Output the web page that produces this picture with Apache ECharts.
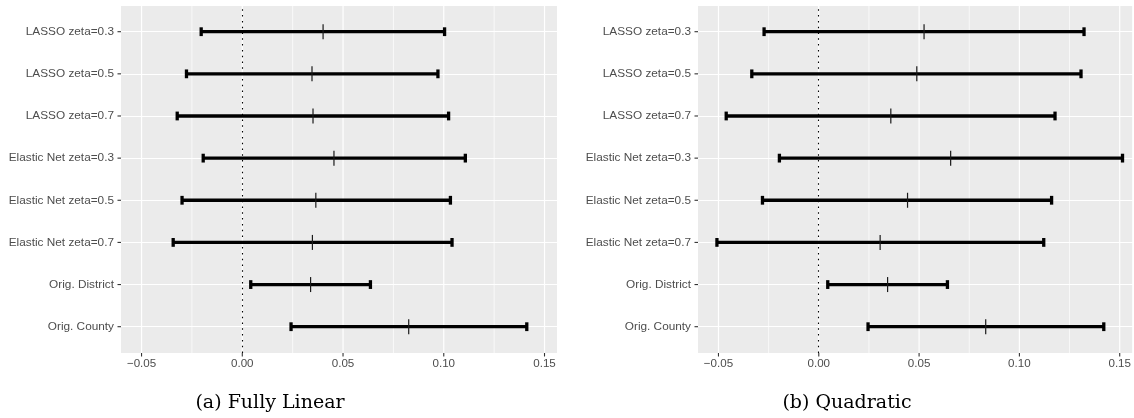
<!DOCTYPE html>
<html>
<head>
<meta charset="utf-8">
<script src="https://cdn.jsdelivr.net/npm/echarts@6/dist/echarts.min.js"></script>
<style>
  html, body { margin: 0; padding: 0; background: #ffffff; }
  #chart { width: 1134px; height: 418px; }
</style>
</head>
<body>
<div id="chart"></div>
<script>
// Estimator rows, listed top to bottom
const categories = [
  "LASSO zeta=0.3", "LASSO zeta=0.5", "LASSO zeta=0.7",
  "Elastic Net zeta=0.3", "Elastic Net zeta=0.5", "Elastic Net zeta=0.7",
  "Orig. District", "Orig. County"
];

// (a) Fully linear specification: interval bounds and point estimate
const linearLow  = [-0.0204, -0.0277, -0.0323, -0.0194, -0.0299, -0.0343, 0.0042, 0.0242];
const linearEst  = [ 0.0401,  0.0346,  0.0351,  0.0455,  0.0365,  0.0348, 0.0339, 0.0826];
const linearHigh = [ 0.1004,  0.0971,  0.1024,  0.1107,  0.1033,  0.1041, 0.0636, 0.1412];

// (b) Quadratic specification
const quadLow  = [-0.0274, -0.0335, -0.0462, -0.0198, -0.0282, -0.0508, 0.0042, 0.0242];
const quadEst  = [ 0.0520,  0.0484,  0.0355,  0.0652,  0.0438,  0.0302, 0.0339, 0.0826];
const quadHigh = [ 0.1314,  0.1299,  0.1170,  0.1505,  0.1153,  0.1114, 0.0636, 0.1412];

// Horizontal axis: labelled breaks, minor breaks and visible range
const xTicks = [-0.05, 0.00, 0.05, 0.10, 0.15];
const xMinorTicks = [-0.025, 0.025, 0.075, 0.125];
const xMin = -0.0602, xMax = 0.1562;
const refLine = 0;

const captions = ["(a) Fully Linear", "(b) Quadratic"];

const panels = [
  { left: 121, low: linearLow, est: linearEst, high: linearHigh, caption: captions[0], captionX: 270 },
  { left: 698, low: quadLow,   est: quadEst,   high: quadHigh,   caption: captions[1], captionX: 847 }
];

const SANS = "'Liberation Sans', Arial, Helvetica, sans-serif";
const TEXT_GREY = '#4D4D4D';
const TICK = { stroke: '#333333', lineWidth: 1.1 };
const TICK_LEN = 3.5;
const PANEL_W = 436;

const fmtTick = v => (Math.abs(v) < 1e-9 ? 0 : v).toFixed(2).replace('-', '\u2212');
const snap = v => Math.round(v - 0.5) + 0.5;

const grid = [], xAxis = [], yAxis = [], series = [], graphic = [];

panels.forEach((p, k) => {
  const outer = k * 2, inner = k * 2 + 1;

  // panel background + vertical grid lines
  grid.push({ left: p.left, top: 6, width: PANEL_W, height: 347, show: true,
              backgroundColor: '#EBEBEB', borderWidth: 0 });
  // row area (category positions)
  grid.push({ left: p.left, top: 31.7, width: PANEL_W, height: 295, show: false });

  xAxis.push({
    type: 'value', gridIndex: outer, min: xMin, max: xMax,
    axisLine: { show: false },
    axisTick: { show: false },
    axisLabel: { customValues: xTicks, formatter: fmtTick, color: TEXT_GREY,
                 fontSize: 11.6, fontFamily: SANS, margin: 5 },
    splitLine: { show: false }
  });
  xAxis.push({ type: 'value', gridIndex: inner, min: xMin, max: xMax, show: false });

  yAxis.push({ type: 'value', gridIndex: outer, min: 0, max: 1, show: false });
  yAxis.push({
    type: 'category', gridIndex: inner, data: categories, inverse: true, boundaryGap: false,
    axisLine: { show: false },
    axisTick: { show: false },
    axisLabel: { color: TEXT_GREY, fontSize: 11.8, fontFamily: SANS, margin: 7, interval: 0 },
    splitLine: { show: true, interval: 0, lineStyle: { color: '#FFFFFF', width: 1.2 } }
  });

  const vline = (width, color, dash, pixelSnap) => (params, api) => {
    const a = api.coord([api.value(0), 0]);
    const b = api.coord([api.value(0), 1]);
    const x = pixelSnap ? snap(a[0]) : a[0];
    return { type: 'line', shape: { x1: x, y1: a[1], x2: x, y2: b[1] },
             style: { stroke: color, lineWidth: width, lineDash: dash || null } };
  };

  series.push({
    type: 'custom', xAxisIndex: outer, yAxisIndex: outer, silent: true, z: 1,
    data: xMinorTicks.map(v => [v]), renderItem: vline(0.7, '#FFFFFF')
  });
  series.push({
    type: 'custom', xAxisIndex: outer, yAxisIndex: outer, silent: true, z: 1,
    data: xTicks.map(v => [v]), renderItem: vline(1.2, '#FFFFFF')
  });
  series.push({
    type: 'custom', xAxisIndex: outer, yAxisIndex: outer, silent: true, z: 2,
    data: [[refLine]], renderItem: vline(1.1, '#000000', [1.5, 4.3], true)
  });

  // tick marks below the panel at each labelled break
  series.push({
    type: 'custom', xAxisIndex: outer, yAxisIndex: outer, silent: true, clip: false, z: 2,
    data: xTicks.map(v => [v]),
    renderItem: (params, api) => {
      const a = api.coord([api.value(0), 0]);
      return { type: 'line', shape: { x1: a[0], y1: a[1], x2: a[0], y2: a[1] + TICK_LEN }, style: TICK };
    }
  });

  // tick marks left of the panel at each row
  series.push({
    type: 'custom', xAxisIndex: inner, yAxisIndex: inner, silent: true, clip: false, z: 2,
    data: categories.map((c, i) => [xMin, i]),
    renderItem: (params, api) => {
      const a = api.coord([api.value(0), api.value(1)]);
      return { type: 'line', shape: { x1: a[0] - TICK_LEN, y1: a[1], x2: a[0], y2: a[1] }, style: TICK };
    }
  });

  // interval bars with end caps and a tick at the estimate
  series.push({
    type: 'custom', xAxisIndex: inner, yAxisIndex: inner, z: 3,
    data: categories.map((c, i) => [i, p.low[i], p.est[i], p.high[i]]),
    encode: { y: 0, x: [1, 2, 3] },
    renderItem: (params, api) => {
      const lo = api.coord([api.value(1), api.value(0)]);
      const md = api.coord([api.value(2), api.value(0)]);
      const hi = api.coord([api.value(3), api.value(0)]);
      const y = lo[1];
      const bar = { stroke: '#000000', lineWidth: 3.3 };
      return {
        type: 'group',
        children: [
          { type: 'line', shape: { x1: lo[0], y1: y, x2: hi[0], y2: y }, style: bar },
          { type: 'line', shape: { x1: lo[0], y1: y - 4.4, x2: lo[0], y2: y + 4.4 }, style: bar },
          { type: 'line', shape: { x1: hi[0], y1: y - 4.4, x2: hi[0], y2: y + 4.4 }, style: bar },
          { type: 'line', shape: { x1: md[0], y1: y - 7.5, x2: md[0], y2: y + 7.5 },
            style: { stroke: '#1A1A1A', lineWidth: 1.2 } }
        ]
      };
    }
  });

  graphic.push({
    type: 'text', x: p.captionX, y: 403, silent: true,
    style: { text: p.caption, fill: '#000000', font: "19px 'DejaVu Serif', serif",
             textAlign: 'center', textVerticalAlign: 'middle' }
  });
});

const chart = echarts.init(document.getElementById('chart'), null, { renderer: 'canvas' });
chart.setOption({
  animation: false,
  backgroundColor: '#FFFFFF',
  grid, xAxis, yAxis, series, graphic
});
</script>
</body>
</html>
